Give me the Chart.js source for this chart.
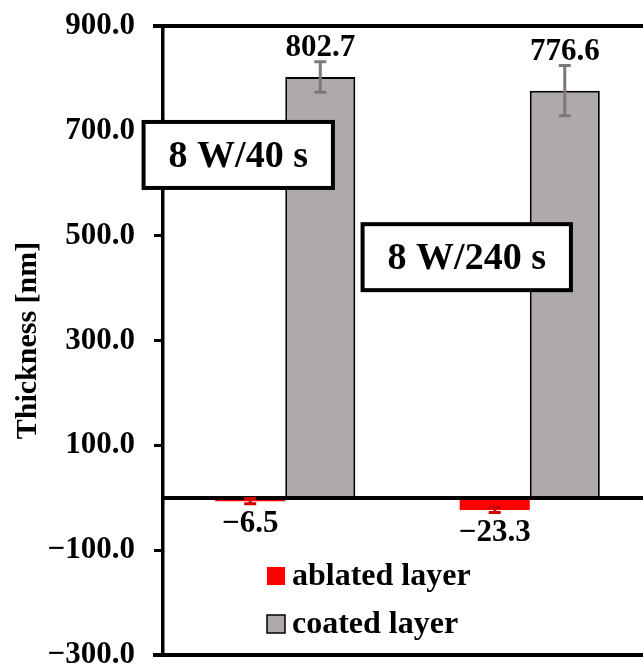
<!DOCTYPE html>
<html>
<head>
<meta charset="utf-8">
<script src="https://cdn.jsdelivr.net/npm/chart.js@4.4.1/dist/chart.umd.min.js"></script>
<style>
    html, body { margin: 0; padding: 0; background: #fff; overflow: hidden; }
    #wrap { width: 652px; height: 664px; }
</style>
</head>
<body>
<div id="wrap"><canvas id="thickness-chart" width="652" height="664"></canvas></div>
<script>
// Data
const conditions = ["8 W/40 s", "8 W/240 s"];
const ablated = [-6.5, -23.3];
const ablatedErr = [5, 5];
const coated = [802.7, 776.6];
const coatedErr = [29, 48];
const yTicks = [-300, -100, 100, 300, 500, 700, 900];

const FONT = "'Liberation Serif', 'Times New Roman', serif";

const fmt = (v) => v.toFixed(1).replace("-", "\u2212");

// Error bars + value labels
const barExtras = {
    id: "barExtras",
    afterDatasetsDraw(chart) {
        const ctx = chart.ctx;
        const y = chart.scales.y;
        chart.data.datasets.forEach((ds, di) => {
            const meta = chart.getDatasetMeta(di);
            meta.data.forEach((bar, i) => {
                const v = ds.data[i];
                const e = ds.errors[i];
                const top = y.getPixelForValue(v + e);
                const bottom = y.getPixelForValue(v - e);

                ctx.save();
                ctx.strokeStyle = ds.errorColor;
                ctx.lineWidth = 3;
                ctx.beginPath();
                ctx.moveTo(bar.x, top);
                ctx.lineTo(bar.x, bottom);
                ctx.moveTo(bar.x - 6, top);
                ctx.lineTo(bar.x + 6, top);
                ctx.moveTo(bar.x - 6, bottom);
                ctx.lineTo(bar.x + 6, bottom);
                ctx.stroke();

                ctx.fillStyle = "#000";
                ctx.font = `bold 31px ${FONT}`;
                ctx.textAlign = "center";
                ctx.textBaseline = "alphabetic";
                if (v >= 0) {
                    ctx.fillText(fmt(v), bar.x, top - 6);
                } else {
                    ctx.fillText(fmt(v), bar.x, bottom + 28);
                }
                ctx.restore();
            });
        });
    }
};

// Frame lines: top, zero line, bottom
const frameLines = {
    id: "frameLines",
    afterDatasetsDraw(chart) {
        const ctx = chart.ctx;
        const { left, right } = chart.chartArea;
        const y = chart.scales.y;
        ctx.save();
        ctx.strokeStyle = "#000";
        ctx.lineWidth = 4;
        [900, 0, -300].forEach((v) => {
            const py = Math.round(y.getPixelForValue(v));
            ctx.beginPath();
            ctx.moveTo(v === 0 ? left : left - 10, py);
            ctx.lineTo(right, py);
            ctx.stroke();
        });
        ctx.restore();
    }
};

// Condition boxes
const conditionBoxes = {
    id: "conditionBoxes",
    afterDraw(chart, args, opts) {
        const ctx = chart.ctx;
        const x = chart.scales.x;
        const y = chart.scales.y;
        ctx.save();
        ctx.font = `bold 38px ${FONT}`;
        opts.boxes.forEach((b) => {
            const text = conditions[b.index];
            const w = ctx.measureText(text).width + 50;
            const h = 66;
            const cx = x.getPixelForValue(b.index) + b.dx;
            const cy = y.getPixelForValue(b.yValue);
            ctx.fillStyle = "#fff";
            ctx.fillRect(cx - w / 2, cy - h / 2, w, h);
            ctx.strokeStyle = "#000";
            ctx.lineWidth = 4;
            ctx.strokeRect(cx - w / 2, cy - h / 2, w, h);
            ctx.fillStyle = "#000";
            ctx.textAlign = "center";
            ctx.textBaseline = "middle";
            ctx.fillText(text, cx, cy + 2);
        });
        ctx.restore();
    }
};

// Legend inside the plot
const innerLegend = {
    id: "innerLegend",
    afterDraw(chart, args, opts) {
        const ctx = chart.ctx;
        const { left } = chart.chartArea;
        ctx.save();
        ctx.font = `bold 32px ${FONT}`;
        ctx.textBaseline = "alphabetic";
        ctx.textAlign = "left";
        chart.data.datasets.forEach((ds, i) => {
            const bx = left + opts.x;
            const by = opts.y + i * opts.rowGap;
            ctx.fillStyle = ds.backgroundColor;
            ctx.fillRect(bx, by, 18, 18);
            if (ds.borderWidth) {
                ctx.strokeStyle = "#000";
                ctx.lineWidth = 1.5;
                ctx.strokeRect(bx, by, 18, 18);
            }
            ctx.fillStyle = "#000";
            ctx.fillText(ds.label, bx + 25, by + 18);
        });
        ctx.restore();
    }
};

new Chart(document.getElementById("thickness-chart"), {
    type: "bar",
    data: {
        labels: conditions,
        datasets: [
            {
                label: "ablated layer",
                data: ablated,
                errors: ablatedErr,
                errorColor: "#d00000",
                backgroundColor: "#ff0000",
                borderWidth: 0
            },
            {
                label: "coated layer",
                data: coated,
                errors: coatedErr,
                errorColor: "#7f7878",
                backgroundColor: "#aeaaaa",
                borderColor: "#000",
                borderWidth: 2
            }
        ]
    },
    options: {
        responsive: false,
        animation: false,
        layout: { padding: { top: 26, bottom: 9, left: 0, right: 0 } },
        datasets: {
            bar: { categoryPercentage: 0.573, barPercentage: 1 }
        },
        scales: {
            x: { display: false },
            y: {
                min: -300,
                max: 900,
                afterBuildTicks: (scale) => {
                    scale.ticks = yTicks.map((v) => ({ value: v }));
                },
                afterFit: (scale) => {
                    scale.width = 163;
                    scale.paddingTop = 0;
                    scale.paddingBottom = 0;
                },
                border: { display: true, color: "#000", width: 3.5 },
                grid: {
                    drawOnChartArea: false,
                    drawTicks: true,
                    tickLength: 9,
                    color: "#000",
                    lineWidth: 3
                },
                ticks: {
                    color: "#000",
                    padding: 19,
                    font: { family: FONT, size: 31, weight: "bold" },
                    callback: (v) => fmt(v)
                },
                title: {
                    display: true,
                    text: "Thickness [nm]",
                    color: "#000",
                    padding: { top: 10, bottom: 0 },
                    font: { family: FONT, size: 30, weight: "bold" }
                }
            }
        },
        plugins: {
            legend: { display: false },
            tooltip: { enabled: false },
            conditionBoxes: {
                boxes: [
                    { index: 0, dx: -47, yValue: 654 },
                    { index: 1, dx: -63, yValue: 459 }
                ]
            },
            innerLegend: { x: 104, y: 567, rowGap: 48 }
        }
    },
    plugins: [frameLines, barExtras, conditionBoxes, innerLegend]
});
</script>
</body>
</html>
